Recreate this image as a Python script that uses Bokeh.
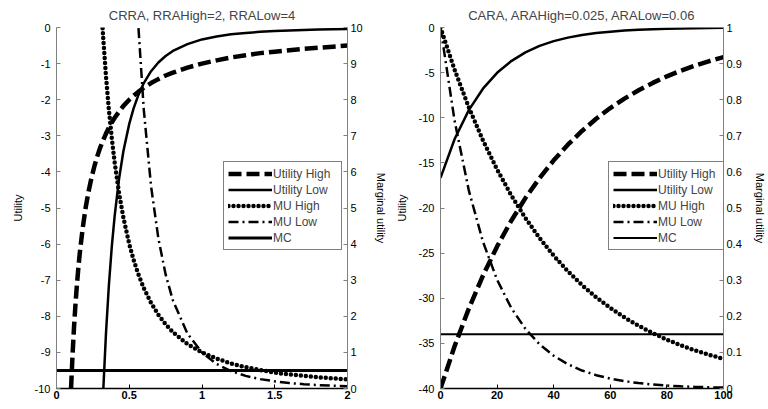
from bokeh.plotting import figure
from bokeh.models import Range1d, LinearAxis, FixedTicker, CustomJSTickFormatter, Legend
from bokeh.layouts import row
from bokeh.embed import file_html
from bokeh.resources import INLINE

FONT = "Liberation Sans"

series_names = ["Utility High", "Utility Low", "MU High", "MU Low", "MC"]

# ---------------- CRRA panel data ----------------
crra_title = "CRRA, RRAHigh=2, RRALow=4"
crra_c = [0.10, 0.11, 0.12, 0.13, 0.14, 0.15, 0.16, 0.18, 0.20, 0.22, 0.24, 0.26, 0.28,
          0.30, 0.32, 0.34, 0.36, 0.38, 0.40, 0.43, 0.46, 0.50, 0.53, 0.56, 0.60, 0.65,
          0.70, 0.75, 0.80, 0.90, 1.00, 1.10, 1.20, 1.30, 1.40, 1.50, 1.60, 1.70, 1.80,
          1.90, 2.00]
crra_u_high = [-10.00, -9.09, -8.33, -7.69, -7.14, -6.67, -6.25, -5.56, -5.00, -4.55, -4.17,
               -3.85, -3.57, -3.33, -3.13, -2.94, -2.78, -2.63, -2.50, -2.33, -2.17, -2.00,
               -1.89, -1.79, -1.67, -1.54, -1.43, -1.33, -1.25, -1.11, -1.00, -0.91, -0.83,
               -0.77, -0.71, -0.67, -0.63, -0.59, -0.56, -0.53, -0.50]
crra_u_low = [-333.3, -250.4, -192.9, -151.7, -121.5, -98.8, -81.4, -57.2, -41.7, -31.3, -24.1,
              -19.0, -15.2, -12.35, -10.17, -8.48, -7.14, -6.07, -5.21, -4.19, -3.42, -2.67,
              -2.24, -1.90, -1.54, -1.21, -0.97, -0.79, -0.65, -0.46, -0.33, -0.25, -0.19,
              -0.15, -0.12, -0.10, -0.08, -0.068, -0.057, -0.049, -0.042]
crra_mu_high = [100.0, 82.6, 69.4, 59.2, 51.0, 44.4, 39.1, 30.9, 25.0, 20.7, 17.4, 14.8, 12.8,
                11.1, 9.77, 8.65, 7.72, 6.93, 6.25, 5.41, 4.73, 4.00, 3.56, 3.19, 2.78, 2.37,
                2.04, 1.78, 1.56, 1.23, 1.00, 0.83, 0.69, 0.59, 0.51, 0.44, 0.39, 0.35, 0.31,
                0.28, 0.25]
crra_mu_low = [10000, 6830, 4823, 3501, 2603, 1975, 1526, 953, 625, 427, 301, 219, 163,
               123, 95.4, 74.8, 59.5, 47.9, 39.1, 29.2, 22.3, 16.0, 12.7, 10.2, 7.72, 5.60,
               4.16, 3.16, 2.44, 1.52, 1.00, 0.68, 0.48, 0.35, 0.26, 0.20, 0.15, 0.12, 0.095,
               0.077, 0.063]
crra_mc_c = [0.0, 2.0]
crra_mc = [0.5, 0.5]
crra_xticks = [0, 0.5, 1, 1.5, 2]
crra_util_ticks = [-10, -9, -8, -7, -6, -5, -4, -3, -2, -1, 0]
crra_mu_ticks = [0, 1, 2, 3, 4, 5, 6, 7, 8, 9, 10]

# ---------------- CARA panel data ----------------
cara_title = "CARA, ARAHigh=0.025, ARALow=0.06"
cara_c = [0, 5, 10, 15, 20, 25, 30, 35, 40, 45, 50, 55, 60, 65, 70, 75, 80, 85, 90, 95, 100]
cara_u_high = [-40.0, -35.30, -31.15, -27.49, -24.26, -21.41, -18.90, -16.68, -14.72, -12.99,
               -11.46, -10.11, -8.92, -7.88, -6.95, -6.14, -5.41, -4.78, -4.22, -3.72, -3.28]
cara_u_low = [-16.67, -12.35, -9.15, -6.78, -5.02, -3.72, -2.76, -2.04, -1.51, -1.12, -0.83,
              -0.61, -0.46, -0.34, -0.25, -0.19, -0.14, -0.10, -0.075, -0.055, -0.041]
cara_mu_high = [1.0, 0.8825, 0.7788, 0.6873, 0.6065, 0.5353, 0.4724, 0.4169, 0.3679, 0.3247,
                0.2865, 0.2528, 0.2231, 0.1969, 0.1738, 0.1534, 0.1353, 0.1194, 0.1054,
                0.0930, 0.0821]
cara_mu_low = [1.0, 0.7408, 0.5488, 0.4066, 0.3012, 0.2231, 0.1653, 0.1225, 0.0907, 0.0672,
               0.0498, 0.0369, 0.0273, 0.0202, 0.0150, 0.0111, 0.0082, 0.0061, 0.0045,
               0.0033, 0.0025]
cara_mc_c = [0, 100]
cara_mc = [0.15, 0.15]
cara_xticks = [0, 20, 40, 60, 80, 100]
cara_util_ticks = [-40, -35, -30, -25, -20, -15, -10, -5, 0]
cara_mu_ticks = [0, 0.1, 0.2, 0.3, 0.4, 0.5, 0.6, 0.7, 0.8, 0.9, 1]


def style_axis(ax, line_color, bold=False, size="11px"):
    ax.axis_line_color = line_color
    ax.major_tick_line_color = line_color
    ax.minor_tick_line_color = None
    ax.major_tick_in = 4
    ax.major_tick_out = 0
    ax.major_label_text_font = FONT
    ax.major_label_text_font_size = size
    ax.major_label_text_color = "black"
    ax.major_label_text_font_style = "bold" if bold else "normal"
    ax.axis_label_text_font = FONT
    ax.axis_label_text_font_size = "11px"
    ax.axis_label_text_font_style = "normal"
    ax.axis_label_text_color = "black"
    ax.formatter = CustomJSTickFormatter(code="return String(tick);")


def make_panel(title, c, uh, ul, muh, mul, mcx, mc, xr, ylr, yrr, xt, ylt, yrt,
               width, ml, mr, legend_x, mc_width):
    p = figure(width=width, height=409, x_range=Range1d(*xr), y_range=Range1d(*ylr),
               output_backend="svg", toolbar_location=None, title=title,
               min_border_left=ml, min_border_right=mr, min_border_top=0, min_border_bottom=21)
    p.title.text_font = FONT
    p.title.text_font_size = "13px"
    p.title.text_font_style = "normal"
    p.title.align = "center"
    p.title.standoff = 10
    p.outline_line_color = None
    p.xgrid.grid_line_color = None
    p.ygrid.grid_line_color = None
    p.background_fill_color = "white"
    p.border_fill_color = "white"
    p.extra_y_ranges = {"mu": Range1d(*yrr)}

    r1 = p.line(c, uh, line_width=4.5, line_dash="13 5", color="black")
    r2 = p.line(c, ul, line_width=2.5, color="black")
    r3 = p.line(c, muh, y_range_name="mu", line_width=4.5, line_dash="0 5",
                line_cap="round", color="black")
    r4 = p.line(c, mul, y_range_name="mu", line_width=2.5, line_dash="10 4 2 4", color="black")
    r5 = p.line(mcx, mc, y_range_name="mu", line_width=mc_width, color="black")

    right = LinearAxis(y_range_name="mu", axis_label="Marginal utility")
    p.add_layout(right, "right")

    p.xaxis.ticker = FixedTicker(ticks=xt)
    p.yaxis[0].ticker = FixedTicker(ticks=ylt)
    right.ticker = FixedTicker(ticks=yrt)
    p.yaxis[0].axis_label = "Utility"
    style_axis(p.xaxis[0], "black", bold=True, size="11px")
    p.xaxis[0].axis_line_width = 1.5
    p.xaxis[0].major_label_standoff = 2
    style_axis(p.yaxis[0], "#808080")
    p.yaxis[0].major_label_standoff = 6
    p.yaxis[0].axis_label_standoff = 8
    style_axis(right, "#808080")
    right.major_label_standoff = 3
    right.axis_label_standoff = 9

    legend = Legend(items=[(n, [r]) for n, r in zip(series_names, [r1, r2, r3, r4, r5])],
                    location=(legend_x, 138))
    legend.label_text_font = FONT
    legend.label_text_font_size = "12px"
    legend.glyph_width = 44
    legend.glyph_height = 15
    legend.label_height = 15
    legend.label_width = 64
    legend.label_standoff = 1
    legend.spacing = 1
    legend.padding = 4
    legend.margin = 0
    legend.border_line_color = "black"
    legend.border_line_width = 1
    legend.background_fill_color = "white"
    legend.background_fill_alpha = 1
    p.add_layout(legend)
    return p


p1 = make_panel(crra_title, crra_c, crra_u_high, crra_u_low, crra_mu_high, crra_mu_low,
                crra_mc_c, crra_mc, (0, 2), (-10, 0), (0, 10), crra_xticks, crra_util_ticks,
                crra_mu_ticks, 390, 56, 43, 167, 3)
p2 = make_panel(cara_title, cara_c, cara_u_high, cara_u_low, cara_mu_high, cara_mu_low,
                cara_mc_c, cara_mc, (0, 100), (-40, 0), (0, 1), cara_xticks, cara_util_ticks,
                cara_mu_ticks, 378, 50, 36, 168, 2)

layout = row(p1, p2)
open("out.html", "w").write(file_html(layout, INLINE))
